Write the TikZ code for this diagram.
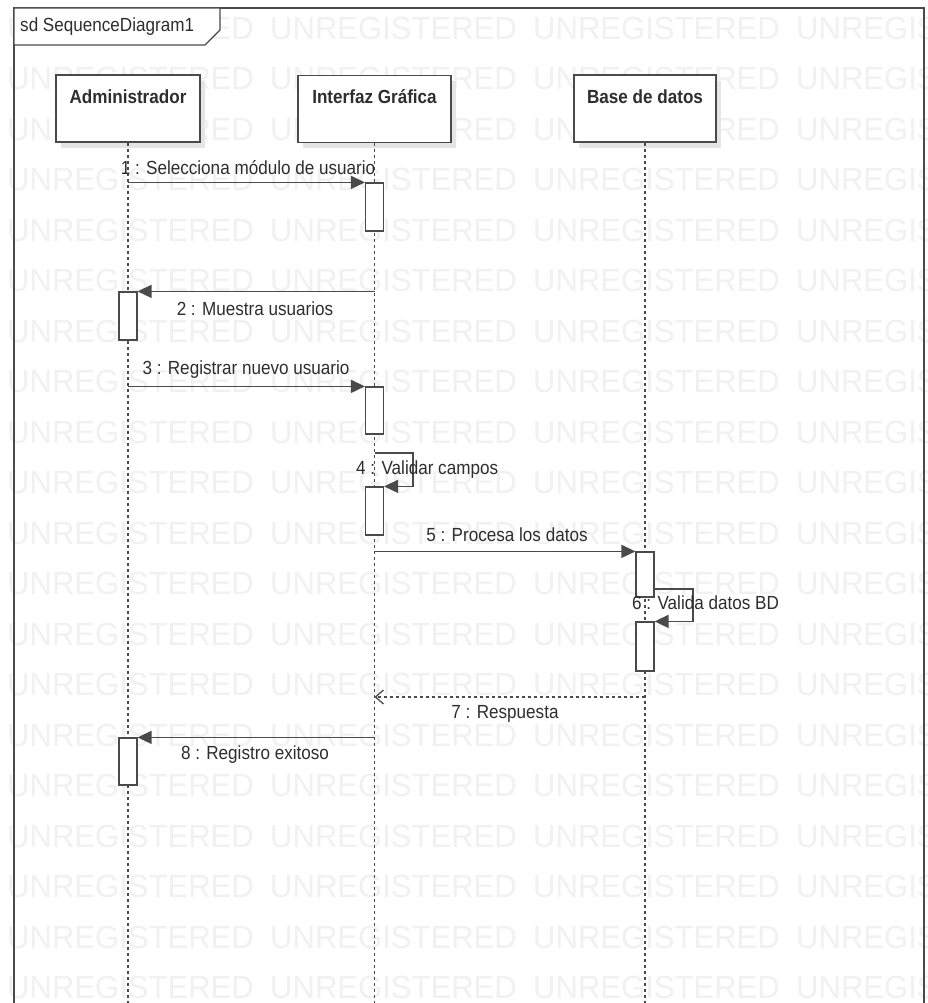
\documentclass[tikz,border=0pt]{standalone}
\usepackage{fontspec}
\setmainfont[FakeStretch=0.9]{Liberation Sans}
\newfontfamily\wmfont[FakeStretch=0.97]{Liberation Sans}
\usetikzlibrary{arrows.meta,shadows}
\definecolor{ln}{HTML}{4A4A4A}
\definecolor{tx}{HTML}{2E2E2E}
\definecolor{wm}{HTML}{F1F1F1}
\begin{document}
\begin{tikzpicture}[x=1pt,y=-1pt,
  wmark/.style={font=\wmfont\fontsize{32}{32}\selectfont, text=wm, anchor=west, inner sep=0pt},
  frame/.style={draw=ln, line width=1.4pt},
  head/.style={draw=ln, line width=1.3pt, fill=white, inner sep=0pt, minimum height=67pt,
    drop shadow={shadow xshift=5pt, shadow yshift=-6pt, fill=black!10, opacity=1}},
  headtxt/.style={font=\bfseries\fontsize{19}{22}\selectfont, text=tx, inner sep=0pt},
  lifeline/.style={draw=ln, line width=1.2pt, dash pattern=on 3pt off 3pt},
  bar/.style={draw=ln, line width=1.2pt, fill=white, minimum width=18pt, inner sep=0pt},
  msg/.style={draw=ln, line width=1.5pt, -{Triangle[length=14pt,width=13pt]}},
  reply/.style={draw=ln, line width=1.3pt, dash pattern=on 3pt off 3pt, -{Straight Barb[length=8pt,width=14pt]}},
  lbl/.style={font=\fontsize{19}{22}\selectfont, text=tx, inner sep=0pt}]
\useasboundingbox (0,0) rectangle (928,1003);
\clip (0,0) rectangle (928,1003);
\fill[white] (0,0) rectangle (928,1003);
% watermark
\foreach \r in {0,...,19}{
  \foreach \c/\xx in {0/7,1/270,2/533,3/796}{
    \node[wmark] (wm-\r-\c) at ({\xx},{28+50.5*\r}) {UNREGISTERED};
  }
}
% frame
\draw[frame] (14,8) rectangle (924,1020);
\draw[frame, fill=white] (14,8) -- (220,8) -- (220,30) -- (205,45) -- (14,45) -- cycle;
\node[lbl, anchor=west] (title) at (20,27) {sd SequenceDiagram1};
% lifeline heads
\node[head, minimum width=144pt] (admin) at (128,108.5) {};
\node[head, minimum width=153pt] (intf) at (374.5,109) {};
\node[head, minimum width=142pt] (base) at (645,108.5) {};
\node[headtxt] (admin-l) at (128,97) {Administrador};
\node[headtxt] (intf-l) at (374.5,97) {Interfaz Gráfica};
\node[headtxt] (base-l) at (645,97) {Base de datos};
% lifelines
\coordinate (admin-end) at (128,1020);
\coordinate (intf-end) at (374.5,1020);
\coordinate (base-end) at (645,1020);
\draw[lifeline] (admin.south) -- (admin-end);
\draw[lifeline] (intf.south) -- (intf-end);
\draw[lifeline] (base.south) -- (base-end);
% activation bars
\node[bar, minimum height=48pt] (act1) at (374.5,207) {};
\node[bar, minimum height=48pt] (act2) at (128,316) {};
\node[bar, minimum height=47pt] (act3) at (374.5,410.5) {};
\node[bar, minimum height=48pt] (act4) at (374.5,511) {};
\node[bar, minimum height=45pt] (act5) at (645,574.5) {};
\node[bar, minimum height=49pt] (act6) at (645,646.5) {};
\node[bar, minimum height=47pt] (act8) at (128,761.5) {};
% messages
\draw[msg] (admin |- act1.north west) -- (act1.north west);
\node[lbl] (m1-l) at (248,168) {1 : Selecciona módulo de usuario};
\draw[msg] (intf |- act2.north east) -- (act2.north east);
\node[lbl] (m2-l) at (255,309) {2 : Muestra usuarios};
\draw[msg] (admin |- act3.north west) -- (act3.north west);
\node[lbl] (m3-l) at (246,370) {3 : Registrar nuevo usuario};
\coordinate (l4) at (374.5,453);
\draw[msg] (l4) -- ++(38.5,0) |- (act4.north east);
\node[lbl, anchor=west] (m4-l) at (356,470) {4 : Validar campos};
\draw[msg] (intf |- act5.north west) -- (act5.north west);
\node[lbl] (m5-l) at (507,535) {5 : Procesa los datos};
\coordinate (l6) at (654,589);
\draw[msg] (l6) -- ++(39,0) |- (act6.north east);
\node[lbl, anchor=west] (m6-l) at (632,603) {6 : Valida datos BD};
\coordinate (m7s) at (645,697);
\coordinate (m7e) at (374.5,697);
\draw[reply] (m7s) -- (m7e);
\node[lbl] (m7-l) at (505,714) {7 : Respuesta};
\draw[msg] (intf |- act8.north east) -- (act8.north east);
\node[lbl] (m8-l) at (255,755) {8 : Registro exitoso};
\end{tikzpicture}
\end{document}
